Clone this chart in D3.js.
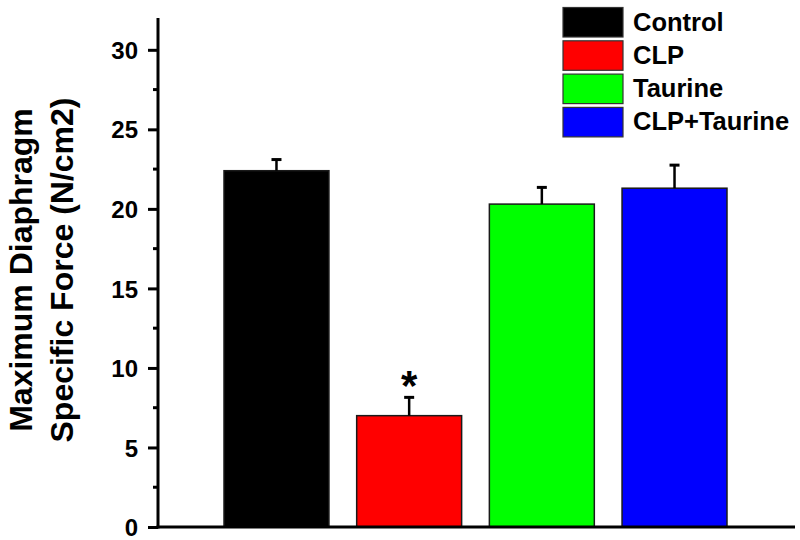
<!DOCTYPE html>
<html><head><meta charset="utf-8">
<script src="https://cdn.jsdelivr.net/npm/d3@7"></script>
<style>body{margin:0;background:#fff}svg{display:block}text{font-family:"Liberation Sans",Arial,sans-serif;font-weight:bold}</style>
</head><body><svg id="c" width="800" height="540"></svg>
<script>
const categories = ["Control", "CLP", "Taurine", "CLP+Taurine"];
const values = [22.4, 7.0, 20.3, 21.3];
const errors = [0.7, 1.15, 1.05, 1.45];
const colors = ["#000000", "#ff0000", "#00ff00", "#0000ff"];
const yTicks = [0, 5, 10, 15, 20, 25, 30];
const significance = ["", "*", "", ""];

const svg = d3.select("#c");
const x0 = 158, x1 = 795, yTop = 18, yBot = 527;
const y = d3.scaleLinear().domain([0, 32]).range([yBot, yTop]);
const x = d3.scaleBand().domain(categories).range([224, 727]).paddingInner(0.209).paddingOuter(0);

// bars
svg.selectAll("rect.bar").data(categories).join("rect")
  .attr("x", d => x(d)).attr("width", x.bandwidth())
  .attr("y", (d, i) => y(values[i])).attr("height", (d, i) => yBot - y(values[i]))
  .attr("fill", (d, i) => colors[i]).attr("stroke", "#1a1a1a").attr("stroke-width", 1.5);

// error bars
const eb = svg.selectAll("g.eb").data(categories).join("g");
eb.append("line").attr("x1", d => x(d) + x.bandwidth() / 2).attr("x2", d => x(d) + x.bandwidth() / 2)
  .attr("y1", (d, i) => y(values[i])).attr("y2", (d, i) => y(values[i] + errors[i]))
  .attr("stroke", "#000").attr("stroke-width", 2.5);
eb.append("line").attr("x1", d => x(d) + x.bandwidth() / 2 - 5).attr("x2", d => x(d) + x.bandwidth() / 2 + 5)
  .attr("y1", (d, i) => y(values[i] + errors[i])).attr("y2", (d, i) => y(values[i] + errors[i]))
  .attr("stroke", "#000").attr("stroke-width", 3);
eb.append("text").attr("x", d => x(d) + x.bandwidth() / 2)
  .attr("y", (d, i) => y(values[i] + errors[i]) + 3)
  .attr("text-anchor", "middle").attr("font-size", 42).text((d, i) => significance[i]);

// y axis
const yAxis = svg.append("g").attr("transform", `translate(${x0},0)`)
  .call(d3.axisLeft(y).tickValues(yTicks).tickSize(10).tickPadding(10));
yAxis.select(".domain").remove();
yAxis.selectAll(".tick line").attr("stroke", "#000").attr("stroke-width", 3);
yAxis.selectAll(".tick text").attr("font-size", 24).attr("fill", "#000").attr("dy", "0.36em")
  .style("font-family", '"Liberation Sans",Arial,sans-serif').style("font-weight", "bold");
const minor = d3.range(2.5, 32, 5);
svg.selectAll("line.minor").data(minor).join("line")
  .attr("x1", x0 - 5).attr("x2", x0).attr("y1", d => y(d)).attr("y2", d => y(d))
  .attr("stroke", "#000").attr("stroke-width", 3);
svg.append("line").attr("x1", x0).attr("x2", x0).attr("y1", yTop).attr("y2", yBot + 1.5)
  .attr("stroke", "#000").attr("stroke-width", 3);
svg.append("line").attr("x1", x0 - 1.5).attr("x2", x1).attr("y1", yBot).attr("y2", yBot)
  .attr("stroke", "#000").attr("stroke-width", 3);

// y title
const t = svg.append("text").attr("transform", "translate(0,270) rotate(-90)")
  .attr("text-anchor", "middle").attr("font-size", 32);
t.append("tspan").attr("x", 0).attr("y", 32).text("Maximum Diaphragm");
t.append("tspan").attr("x", 0).attr("y", 73).text("Specific Force (N/cm2)");

// legend
const lg = svg.append("g").selectAll("g").data(categories).join("g")
  .attr("transform", (d, i) => `translate(563,${7.5 + i * 33.3})`);
lg.append("rect").attr("width", 60).attr("height", 29.5)
  .attr("fill", (d, i) => colors[i]).attr("stroke", "#333").attr("stroke-width", 1.2);
lg.append("text").attr("x", 70).attr("y", 23).attr("font-size", 25.5).text(d => d);
</script></body></html>
